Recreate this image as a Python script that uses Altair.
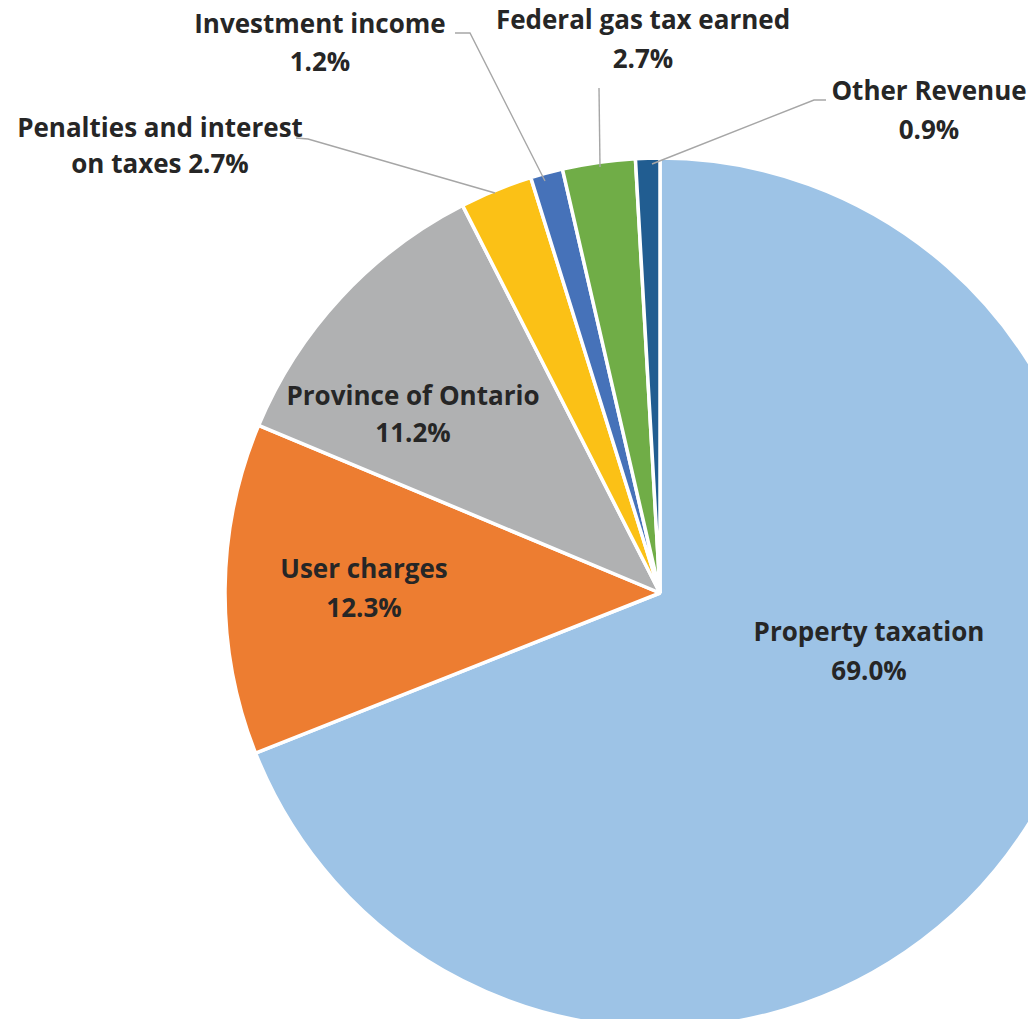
import altair as alt
import pandas as pd

# ---- data ----
categories = ["Property taxation", "User charges", "Province of Ontario",
              "Penalties and interest on taxes", "Investment income",
              "Federal gas tax earned", "Other Revenue"]
shares = [69.0, 12.3, 11.2, 2.7, 1.2, 2.7, 0.9]
label_head = ["Property taxation", "User charges", "Province of Ontario",
              "Penalties and interest", "Investment income",
              "Federal gas tax earned", "Other Revenue"]
label_prefix = ["", "", "", "on taxes ", "", "", ""]

# ---- styles / positions (screen pixels) ----
colors = ["#9DC3E6", "#ED7D31", "#B0B1B2", "#FBC116", "#4672B9", "#70AD47", "#215D91"]
# label anchor: centre x, baseline of first line, baseline of second line
label_x = [869, 364, 413, 160, 320, 643, 929]
label_y1 = [641, 578, 405, 137, 33, 29, 100]
label_y2 = [680, 617, 442, 173, 71, 68, 139]
leader_lines = {
    "Penalties and interest on taxes": [(296, 138), (308, 139), (495, 193)],
    "Investment income": [(455, 33), (470, 33), (545, 181)],
    "Federal gas tax earned": [(599, 88), (600, 167)],
    "Other Revenue": [(826, 100), (814, 100), (652, 164)],
}

W, H = 1020, 1011
OX, OY = 8, 8
CX, CY, R = 660 - OX, 593 - OY, 435

pie_df = pd.DataFrame({"category": categories, "share": shares,
                       "idx": list(range(len(categories)))})

rows = []
for i, c in enumerate(categories):
    pct = f"{shares[i]:.1f}%"
    rows.append({"txt": label_head[i], "px": label_x[i] - OX, "py": label_y1[i] - OY})
    rows.append({"txt": label_prefix[i] + pct, "px": label_x[i] - OX, "py": label_y2[i] - OY})
text_df = pd.DataFrame(rows)

lrows = []
for seg, pts in leader_lines.items():
    for k, (x, y) in enumerate(pts):
        lrows.append({"seg": seg, "k": k, "px": x - OX, "py": y - OY})
line_df = pd.DataFrame(lrows)

xs = alt.Scale(domain=[0, W], range=[0, W], nice=False, zero=False)
ys = alt.Scale(domain=[0, H], range=[0, H], nice=False, zero=False)

pie = alt.Chart(pie_df).mark_arc(
    radius=R, stroke="white", strokeWidth=3.5, strokeJoin="bevel", clip=True
).encode(
    theta=alt.Theta("share:Q", stack=True),
    order=alt.Order("idx:Q"),
    color=alt.Color("category:N", scale=alt.Scale(domain=categories, range=colors), legend=None),
    x=alt.value(CX),
    y=alt.value(CY),
)

lines = alt.Chart(line_df).mark_line(color="#A6A6A6", strokeWidth=1.4).encode(
    x=alt.X("px:Q", scale=xs, axis=None),
    y=alt.Y("py:Q", scale=ys, axis=None),
    detail="seg:N",
    order="k:Q",
)

text = alt.Chart(text_df).mark_text(
    font="Open Sans", fontWeight="bold", fontSize=26, color="#262626",
    align="center", baseline="alphabetic"
).encode(
    x=alt.X("px:Q", scale=xs, axis=None),
    y=alt.Y("py:Q", scale=ys, axis=None),
    text="txt:N",
)

chart = alt.layer(pie, lines, text).properties(
    width=W, height=H, padding=0,
    autosize=alt.AutoSizeParams(type="none"),
    background="white",
).configure_view(strokeWidth=0)

chart.save("out.html", embed_options={"renderer": "svg", "actions": False})
